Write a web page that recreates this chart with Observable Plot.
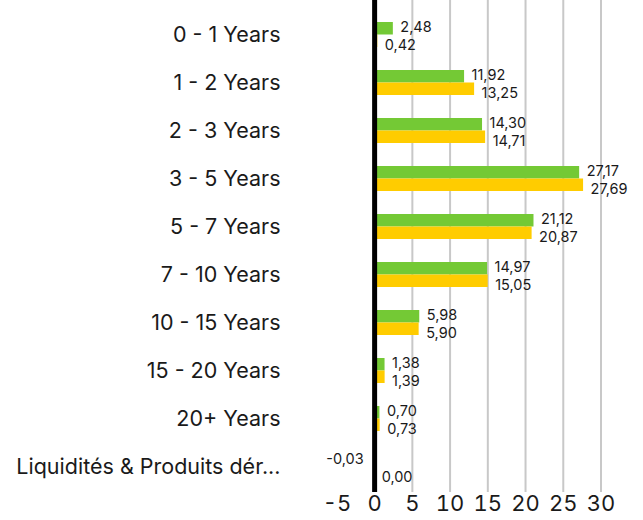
<!DOCTYPE html>
<html>
<head>
<meta charset="utf-8">
<script src="https://cdn.jsdelivr.net/npm/d3@7"></script>
<script src="https://cdn.jsdelivr.net/npm/@observablehq/plot@0.6"></script>
<style>
  html, body { margin: 0; padding: 0; background: white; }
  #chart svg { display: block; }
</style>
</head>
<body>
<div id="chart"></div>
<script>
const categories = ["0 - 1 Years", "1 - 2 Years", "2 - 3 Years", "3 - 5 Years", "5 - 7 Years", "7 - 10 Years", "10 - 15 Years", "15 - 20 Years", "20+ Years", "Liquidités & Produits dér..."];
const fundValues = [2.48, 11.92, 14.30, 27.17, 21.12, 14.97, 5.98, 1.38, 0.70, -0.03];
const benchmarkValues = [0.42, 13.25, 14.71, 27.69, 20.87, 15.05, 5.90, 1.39, 0.73, 0.00];
const xTicks = [-5, 0, 5, 10, 15, 20, 25, 30];
const gridTicks = [5, 10, 15, 20, 25, 30];

const green = "#74c935";
const yellow = "#ffcc00";
const fmt = v => v.toFixed(2).replace(".", ",");

const fund = categories.map((c, i) => ({cat: c, v: fundValues[i]}));
const bench = categories.map((c, i) => ({cat: c, v: benchmarkValues[i]}));

const font = "Inter, 'Noto Sans', sans-serif";

const chart = Plot.plot({
  width: 643,
  height: 520,
  marginTop: 0,
  marginBottom: 28,
  marginLeft: 300,
  marginRight: 0,
  style: {fontFamily: font, color: "#1a1a1a", background: "white"},
  x: {domain: [-5, 30], range: [336.4, 600.5]},
  y: {domain: categories, range: [-1, 502], padding: 0.479},
  marks: [
    Plot.ruleX(gridTicks, {stroke: "#c8c8c8", strokeWidth: 2}),
    Plot.barX(fund, {y: "cat", x1: 0, x2: "v", fill: green, insetBottom: 12.5}),
    Plot.barX(bench, {y: "cat", x1: 0, x2: "v", fill: yellow, insetTop: 12.5}),
    Plot.ruleX([0], {stroke: "black", strokeWidth: 5}),
    Plot.text(fund.filter(d => d.v >= 0), {y: "cat", x: "v", text: d => fmt(d.v),
      textAnchor: "start", dx: 7, dy: -7.5, fontSize: 14.5, fill: "#1a1a1a"}),
    Plot.text(fund.filter(d => d.v < 0), {y: "cat", x: 0, text: d => fmt(d.v),
      textAnchor: "end", dx: -11, dy: -7.5, fontSize: 14.5, fill: "#1a1a1a"}),
    Plot.text(bench, {y: "cat", x: d => Math.max(0, d.v), text: d => fmt(d.v),
      textAnchor: "start", dx: 7, dy: 10, fontSize: 14.5, fill: "#1a1a1a"}),
    Plot.axisY({tickSize: 0, tickPadding: 20, fontSize: 21.5, label: null, fill: "#1a1a1a"}),
    Plot.axisX({ticks: xTicks, tickSize: 0, tickPadding: 3, fontSize: 22, label: null, tickFormat: d => d < 0 ? "-" + Math.abs(d) : String(d), fill: "#1a1a1a"})
  ]
});
document.getElementById("chart").appendChild(chart);
</script>
</body>
</html>
